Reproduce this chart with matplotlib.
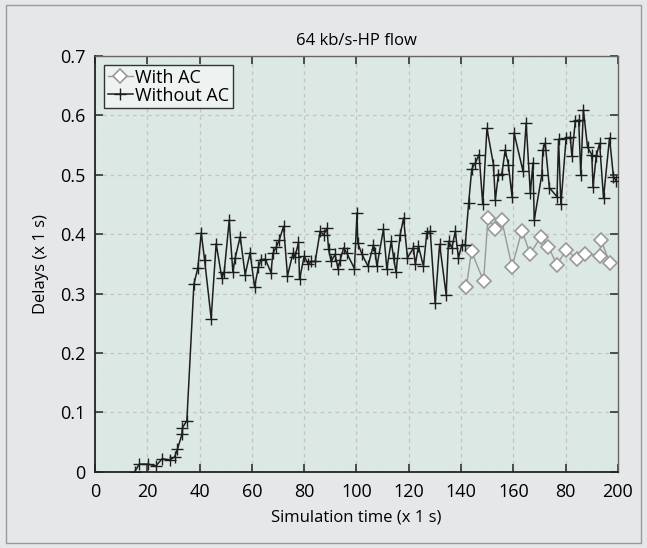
import matplotlib
matplotlib.use("Agg")
import matplotlib.pyplot as plt
from matplotlib.patches import Rectangle

title = "64 kb/s-HP flow"
xlabel = "Simulation time (x 1 s)"
ylabel = "Delays (x 1 s)"
xticks = [0, 20, 40, 60, 80, 100, 120, 140, 160, 180, 200]
xtick_labels = ["0", "20", "40", "60", "80", "100", "120", "140", "160", "80", "200"]
yticks = [0, 0.1, 0.2, 0.3, 0.4, 0.5, 0.6, 0.7]
ytick_labels = ["0", "0.1", "0.2", "0.3", "0.4", "0.5", "0.6", "0.7"]

t_with = [142.0, 144.0, 148.6, 150.3, 153.0, 155.6, 159.5, 163.3, 166.4, 170.5,
          173.4, 176.7, 180.2, 184.3, 187.5, 193.0, 193.6, 196.8]
d_with = [0.311, 0.371, 0.321, 0.427, 0.409, 0.423, 0.345, 0.406, 0.367, 0.395,
          0.379, 0.348, 0.374, 0.358, 0.367, 0.364, 0.390, 0.352]

t_without = [15.1, 16.9, 20.2, 23.3, 25.6, 28.5, 30.4, 31.5, 33.2, 33.4, 35.1, 37.8,
             39.3, 40.6, 41.9, 44.4, 46.3, 48.5, 49.4, 51.3, 52.7, 53.6, 55.5, 57.4,
             59.3, 61.0, 62.5, 63.5, 65.1, 67.3, 68.0, 69.3, 70.5, 72.1, 73.6, 75.7,
             76.5, 77.8, 78.2, 80.0, 81.6, 82.7, 84.2, 86.1, 87.4, 88.7, 89.3, 90.3,
             91.8, 92.9, 93.8, 95.1, 96.3, 99.2, 100.2, 100.5, 102.1, 104.4, 106.5,
             107.2, 107.8, 110.3, 111.6, 113.3, 114.2, 115.1, 116.7, 118.0, 119.5,
             121.8, 122.5, 123.7, 125.6, 126.9, 128.2, 130.1, 131.8, 134.3, 135.2,
             136.5, 137.8, 139.0, 140.3, 141.6, 142.9, 144.1, 145.5, 146.9, 148.3,
             149.9, 152.4, 153.1, 154.3, 155.6, 156.9, 158.1, 159.5, 160.3, 163.7,
             164.9, 166.5, 167.5, 168.0, 170.9, 171.3, 172.2, 173.8, 176.7, 177.3,
             178.2, 180.2, 181.8, 182.4, 183.7, 185.0, 185.8, 186.8, 188.4, 190.0,
             190.5, 191.7, 193.0, 194.5, 196.8, 198.3, 199.3]
d_without = [0.0, 0.013, 0.013, 0.010, 0.022, 0.020, 0.025, 0.038, 0.063, 0.074, 0.086, 0.316,
             0.343, 0.402, 0.356, 0.258, 0.384, 0.326, 0.337, 0.423, 0.337, 0.360, 0.396, 0.332,
             0.369, 0.311, 0.345, 0.357, 0.358, 0.335, 0.368, 0.378, 0.391, 0.413, 0.330, 0.368,
             0.362, 0.386, 0.324, 0.363, 0.349, 0.354, 0.354, 0.405, 0.399, 0.410, 0.375, 0.354,
             0.366, 0.342, 0.357, 0.377, 0.368, 0.342, 0.436, 0.385, 0.366, 0.346, 0.382,
             0.368, 0.346, 0.408, 0.342, 0.388, 0.360, 0.336, 0.399, 0.427, 0.360,
             0.377, 0.349, 0.380, 0.346, 0.402, 0.405, 0.284, 0.383, 0.298, 0.388,
             0.377, 0.405, 0.360, 0.382, 0.382, 0.452, 0.510, 0.520, 0.534, 0.450,
             0.578, 0.517, 0.458, 0.500, 0.501, 0.542, 0.517, 0.463, 0.570, 0.506,
             0.587, 0.469, 0.520, 0.424, 0.500, 0.542, 0.553, 0.478, 0.463, 0.560,
             0.450, 0.562, 0.563, 0.531, 0.590, 0.592, 0.500, 0.609, 0.546, 0.534,
             0.480, 0.531, 0.553, 0.461, 0.562, 0.497, 0.490]

plt.rcParams['font.family'] = ['Open Sans', 'DejaVu Sans']

fig = plt.figure(figsize=(6.47, 5.48), dpi=100, facecolor="#e6e7e8")
fig.patches.append(Rectangle((0.009, 0.009), 0.982, 0.982, transform=fig.transFigure,
                             fill=False, edgecolor="#9a9a9a", linewidth=1.0))
ax = fig.add_axes([0.147, 0.139, 0.808, 0.759])
ax.set_facecolor("#dce8e4")

ax.plot(t_with, d_with, color="#999999", lw=1.0, marker="D", markersize=7,
        markerfacecolor="white", markeredgecolor="#999999", markeredgewidth=1.2,
        label="With AC", zorder=3)
ax.plot(t_without, d_without, color="#1e1e1e", lw=1.1, marker="+", markersize=8.5,
        markeredgewidth=1.0, label="Without AC", zorder=4)

ax.set_xlim(0, 200)
ax.set_ylim(0, 0.7)
ax.set_xticks(xticks)
ax.set_xticklabels(xtick_labels)
ax.set_yticks(yticks)
ax.set_yticklabels(ytick_labels)
ax.tick_params(direction="in", top=True, right=True, length=6, width=1.2,
               labelsize=13, color="#333333")
ax.tick_params(axis="x", pad=8)
ax.tick_params(axis="y", pad=7)
ax.grid(True, color="#c4c4c4", linestyle=(0, (3, 3)), linewidth=0.9)
for side in ["left", "bottom"]:
    ax.spines[side].set_color("#222222")
    ax.spines[side].set_linewidth(1.3)
for side in ["top", "right"]:
    ax.spines[side].set_color("#666666")
    ax.spines[side].set_linewidth(1.0)

ax.set_title(title, fontsize=12, pad=8)
ax.set_xlabel(xlabel, fontsize=12, labelpad=6)
ax.set_ylabel(ylabel, fontsize=12, labelpad=8)

leg = ax.legend(loc="upper left", fontsize=13, handlelength=1.4, handletextpad=0.1,
                borderpad=0.2, labelspacing=0.0, fancybox=False, framealpha=1,
                borderaxespad=0.5)
leg.get_frame().set_facecolor("#eef3f2")
leg.get_frame().set_edgecolor("#333333")
leg.get_frame().set_linewidth(1.0)

fig.savefig("out.png", dpi=100, facecolor=fig.get_facecolor())
